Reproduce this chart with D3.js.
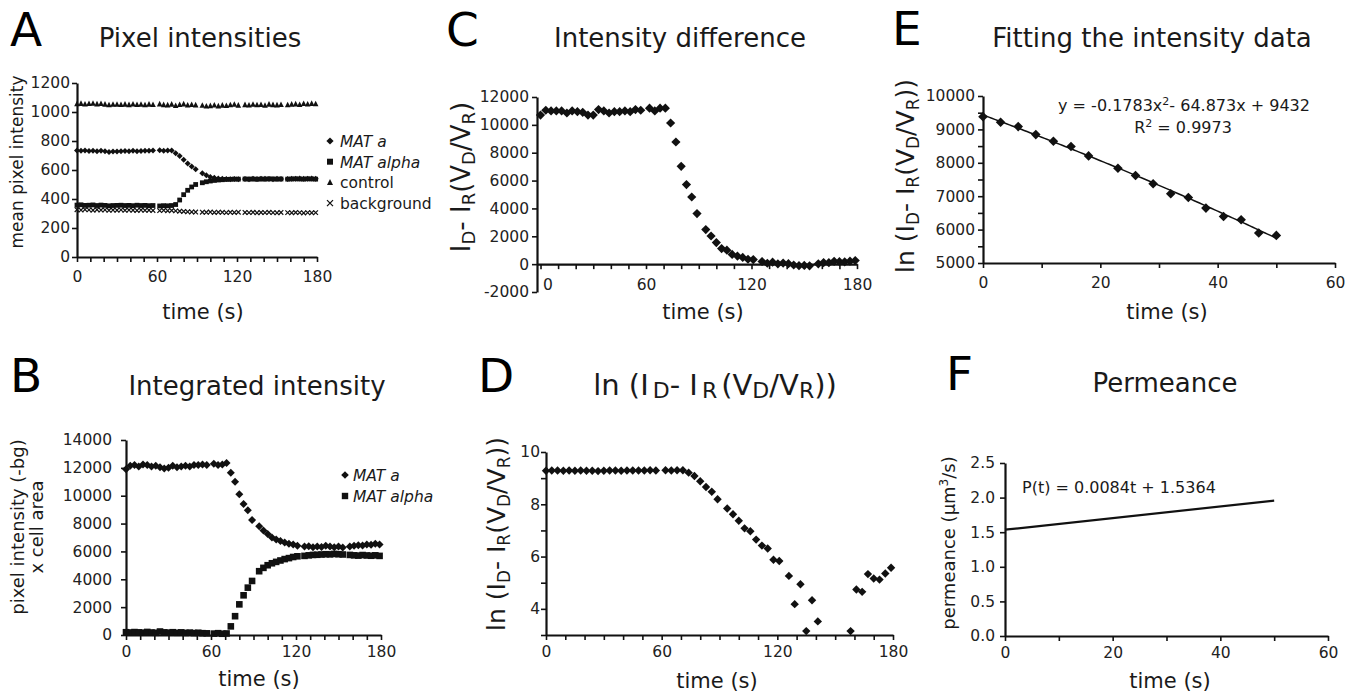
<!DOCTYPE html>
<html>
<head>
<meta charset="utf-8">
<script src="https://cdn.jsdelivr.net/npm/d3@7"></script>
<style>
  body { margin: 0; background: #fff; }
  text { font-family: "DejaVu Sans", Verdana, sans-serif; fill: #1a1a1a; }
  .axis path.domain { stroke: #111; stroke-width: 2.2; }
  .axis line { stroke: #111; stroke-width: 1.6; }
  .axis text { font-size: 15.5px; fill: #222; font-family: "DejaVu Sans", Verdana, sans-serif; }
</style>
</head>
<body>
<svg id="fig" width="1351" height="696"></svg>
<script>
// sample times (s) shared by panels A-D, acquisition in blocks of 10 frames
const timeS = [0, 3, 6, 9, 12, 15, 18, 21, 24, 27,
  30, 33, 36, 39, 42, 45, 48, 51, 54, 57,
  62, 65, 68, 71, 74, 77, 80, 83, 86, 89,
  94, 97, 100, 103, 106, 109, 112, 115, 118, 121,
  126, 129, 132, 135, 138, 141, 144, 147, 150, 153,
  158, 161, 164, 167, 170, 173, 176, 179];

// A - mean pixel intensity
const pixControl = [1056, 1058, 1054, 1057, 1059, 1055, 1057, 1053, 1049, 1052,
  1052, 1051, 1053, 1050, 1054, 1051, 1052, 1049, 1053, 1051,
  1055, 1050, 1048, 1053, 1044, 1051, 1055, 1047, 1051, 1048,
  1045, 1040, 1043, 1047, 1041, 1046, 1044, 1049, 1052, 1046,
  1050, 1047, 1052, 1049, 1051, 1045, 1053, 1050, 1048, 1051,
  1049, 1053, 1055, 1051, 1057, 1054, 1058, 1056];
const pixMatA = [735, 733, 734, 731, 732, 729, 733, 730, 724, 728,
  727, 730, 731, 729, 732, 730, 731, 733, 732, 734,
  736, 733, 735, 734, 715, 697, 670, 645, 625, 605,
  578, 563, 552, 546, 541, 539, 538, 537, 538, 536,
  538, 537, 539, 538, 540, 539, 538, 537, 539, 538,
  538, 540, 539, 541, 539, 540, 541, 539];
const pixMatAlpha = [358, 360, 356, 357, 359, 355, 358, 356, 353, 355,
  356, 357, 355, 356, 354, 357, 355, 356, 354, 355,
  352, 354, 353, 355, 362, 393, 430, 460, 483, 500,
  512, 519, 524, 528, 531, 533, 535, 536, 537, 537,
  538, 537, 538, 536, 538, 537, 539, 538, 537, 538,
  537, 538, 539, 538, 537, 539, 538, 537];
const pixBackground = [326, 324, 327, 325, 323, 326, 324, 325, 322, 324,
  323, 325, 322, 324, 323, 321, 324, 322, 323, 321,
  320, 322, 319, 321, 318, 316, 314, 312, 311, 310,
  309, 308, 310, 307, 309, 308, 306, 308, 307, 309,
  307, 306, 308, 305, 307, 306, 308, 306, 305, 307,
  306, 305, 307, 306, 304, 306, 305, 306];

// B - integrated intensity
const intMatA = [11900, 12150, 12200, 12100, 12250, 12200, 12100, 12150, 12050, 11950,
  12000, 12150, 12050, 12100, 12150, 12100, 12200, 12200, 12250, 12200,
  12300, 12200, 12250, 12350, 11650, 11000, 10100, 9400, 8950, 8250,
  7800, 7500, 7250, 7000, 6850, 6750, 6650, 6550, 6500, 6400,
  6350, 6380, 6300, 6350, 6320, 6400, 6350, 6300, 6350, 6280,
  6350, 6400, 6450, 6420, 6500, 6480, 6550, 6500];
const intMatAlpha = [200, 180, 210, 190, 170, 220, 180, 160, 250, 190,
  170, 200, 160, 190, 150, 170, 140, 160, 130, 120,
  100, 130, 90, 110, 620, 1350, 2200, 2850, 3400, 3880,
  4580, 4820, 5010, 5150, 5250, 5350, 5450, 5520, 5600, 5650,
  5680, 5720, 5750, 5760, 5780, 5800, 5790, 5820, 5800, 5780,
  5750, 5720, 5700, 5740, 5710, 5690, 5720, 5680];

// C - intensity difference
const diffVals = [10700, 11050, 11000, 11000, 11000, 10850, 11000, 10950, 10900, 10700,
  10700, 11100, 11000, 10850, 10950, 10950, 11000, 10950, 11100, 11050,
  11200, 11000, 11200, 11200, 10134, 8770, 7025, 5710, 4820, 3630,
  2480, 2020, 1550, 1120, 1000, 700, 580, 480, 350, 330,
  190, 65, 140, 25, 75, 35, -60, -110, -90, -120,
  25, 115, 105, 205, 175, 165, 210, 260];

// D - log of the difference (null = not defined)
const lnVals = [9.28, 9.29, 9.29, 9.28, 9.29, 9.28, 9.29, 9.28, 9.28, 9.27,
  9.28, 9.29, 9.29, 9.28, 9.29, 9.29, 9.29, 9.29, 9.30, 9.29,
  9.30, 9.29, 9.30, 9.30, 9.21, 9.08, 8.88, 8.66, 8.48, 8.19,
  7.84, 7.62, 7.37, 7.08, 6.97, 6.65, 6.42, 6.31, 5.88, 5.83,
  5.26, 4.18, 4.94, 3.15, 4.33, 3.52, null, null, null, null,
  3.15, 4.74, 4.65, 5.33, 5.16, 5.12, 5.35, 5.57];

// E - fitted section
const fitTime = [0, 3, 6, 9, 12, 15, 18, 23, 26, 29, 32, 35, 38, 41, 44, 47, 50];
const fitVals = [9382, 9213, 9084, 8845, 8645, 8486, 8207, 7839, 7620, 7371, 7072, 6962, 6643, 6394, 6295, 5896, 5827];
const fitCoef = [-0.1783, -64.873, 9432]; // trendline y = a x^2 + b x + c

// F - permeance line
const permTime = [0, 50];
const permVals = [1.536, 1.956];

// ticks
const ticks180 = [0, 10, 20, 30, 40, 50, 60, 70, 80, 90, 100, 110, 120, 130, 140, 150, 160, 170, 180];
const labels180 = [0, 60, 120, 180];
const ticks60 = [0, 10, 20, 30, 40, 50, 60];
const labels60 = [0, 20, 40, 60];
const pixTicks = [0, 200, 400, 600, 800, 1000, 1200];
const intTicks = [0, 2000, 4000, 6000, 8000, 10000, 12000, 14000];
const diffTicks = [-2000, 0, 2000, 4000, 6000, 8000, 10000, 12000];
const lnTicks = [3, 4, 5, 6, 7, 8, 9, 10];
const lnLabels = [4, 6, 8, 10];
const fitTicks = [5000, 5500, 6000, 6500, 7000, 7500, 8000, 8500, 9000, 9500, 10000];
const fitLabels = [5000, 6000, 7000, 8000, 9000, 10000];
const permTicks = [0, 0.5, 1, 1.5, 2, 2.5];

const svg = d3.select("#fig");

const diamond = r => `M0,${-r}L${r},0L0,${r}L${-r},0Z`;
const square = r => `M${-r},${-r}H${r}V${r}H${-r}Z`;
const triangle = r => `M0,${-r * 1.15}L${r},${r * 0.85}L${-r},${r * 0.85}Z`;
const times = r => `M${-r},${-r}L${r},${r}M${r},${-r}L${-r},${r}`;

function makePanel(o) {
    const x = d3.scaleLinear().domain(o.xDomain).range(o.xRange);
    const y = d3.scaleLinear().domain(o.yDomain).range(o.yRange);
    const g = svg.append("g");
    const fmtY = o.yFmt ? d3.format(o.yFmt) : (d => d);

    const xAxisG = g.append("g")
        .attr("class", "axis")
        .attr("transform", `translate(0,${y(o.xCross)})`)
        .call(d3.axisBottom(x).tickValues(o.xTicks).tickSize(5).tickSizeOuter(0)
            .tickPadding(o.xPad)
            .tickFormat(d => o.xLabels.includes(d) ? d : ""));

    g.append("g")
        .attr("class", "axis")
        .attr("transform", `translate(${x(o.yCross)},0)`)
        .call(d3.axisLeft(y).tickValues(o.yTicks).tickSize(5).tickSizeOuter(0)
            .tickPadding(o.yPad)
            .tickFormat(d => o.yLabels.includes(d) ? fmtY(d) : ""));

    return { g, x, y, xAxisG };
}

function points(p, xs, ys, shape, r) {
    const pts = xs.map((t, i) => ({ t, v: ys[i] })).filter(d => d.v !== null);
    p.g.selectAll(null)
        .data(pts)
        .enter()
        .append("path")
        .attr("transform", d => `translate(${p.x(d.t)},${p.y(d.v)})`)
        .attr("d", shape(r))
        .attr("fill", shape === times ? "none" : "#111")
        .attr("stroke", shape === times ? "#111" : "none")
        .attr("stroke-width", 1.2);
}

// text with sub/superscript pieces
function rich(x, y, parts, o) {
    const t = svg.append("text")
        .attr("transform", `translate(${x},${y})` + (o.rotate ? " rotate(-90)" : ""))
        .attr("text-anchor", o.anchor || "middle")
        .style("font-size", o.size + "px");
    let shift = 0;
    parts.forEach(p => {
        const [s, kind, dx] = typeof p === "string" ? [p, null, 0] : p;
        const want = kind === "sub" ? o.subDy : kind === "sup" ? -o.supDy : 0;
        t.append("tspan")
            .attr("dy", want - shift)
            .attr("dx", dx || 0)
            .style("font-size", (kind ? o.small : o.size) + "px")
            .text(s);
        shift = want;
    });
    return t;
}

function label(x, y, s, size, anchor, extra) {
    const t = svg.append("text")
        .attr("x", x).attr("y", y)
        .attr("text-anchor", anchor || "middle")
        .style("font-size", size + "px")
        .text(s);
    if (extra) extra(t);
    return t;
}

// panel letters and titles
[["A", 10, 46], ["C", 446, 46], ["E", 892, 45], ["B", 10, 392], ["D", 478, 392], ["F", 946, 390]]
    .forEach(([s, x, y]) => label(x, y, s, 47, "start", t => t.style("fill", "#000")));

label(200, 47, "Pixel intensities", 26);
label(680, 47, "Intensity difference", 26);
label(1152, 47, "Fitting the intensity data", 26);
label(257, 395, "Integrated intensity", 26);
label(1165, 392, "Permeance", 26);
rich(715, 395, ["ln (I", ["D", "sub", 4], "- I", ["R", "sub", 4], ["(V", null, 4], ["D", "sub"], "/V", ["R", "sub"], "))"],
    { size: 29, small: 22, subDy: 3 });

// ---------- A ----------
const pA = makePanel({
    xDomain: [0, 180], xRange: [77, 317], yDomain: [0, 1200], yRange: [257, 83],
    xCross: 0, yCross: 0, xTicks: ticks180, xLabels: labels180, xPad: 9,
    yTicks: pixTicks, yLabels: pixTicks, yPad: 2
});
points(pA, timeS, pixControl, triangle, 2.8);
points(pA, timeS, pixBackground, times, 2.3);
points(pA, timeS, pixMatAlpha, square, 2.4);
points(pA, timeS, pixMatA, diamond, 3);
label(203, 319, "time (s)", 21);
label(0, 0, "mean pixel intensity", 17, "middle", t => t.attr("transform", "translate(23,162) rotate(-90)"));

const legA = [["MAT a", diamond, true], ["MAT alpha", square, true], ["control", triangle, false], ["background", times, false]];
legA.forEach(([s, shape, it], i) => {
    const cy = 141 + i * 20.7;
    svg.append("path").attr("transform", `translate(330,${cy})`).attr("d", shape(shape === diamond ? 3.6 : 3))
        .attr("fill", shape === times ? "none" : "#111").attr("stroke", shape === times ? "#111" : "none").attr("stroke-width", 1.3);
    label(340, cy + 6, s, 15.5, "start", t => t.style("font-style", it ? "italic" : "normal"));
});

// ---------- B ----------
const pB = makePanel({
    xDomain: [0, 180], xRange: [126, 381], yDomain: [0, 14000], yRange: [635, 440],
    xCross: 0, yCross: 0, xTicks: ticks180, xLabels: labels180, xPad: 6,
    yTicks: intTicks, yLabels: intTicks, yPad: 9
});
points(pB, timeS, intMatAlpha, square, 3.3);
points(pB, timeS, intMatA, diamond, 4);
label(259, 686, "time (s)", 21);
label(0, 0, "pixel intensity (-bg)", 18, "middle", t => t.attr("transform", "translate(24,527) rotate(-90)"));
label(0, 0, "x cell area", 18, "middle", t => t.attr("transform", "translate(43,527) rotate(-90)"));
[["MAT a", diamond], ["MAT alpha", square]].forEach(([s, shape], i) => {
    const cy = 475 + i * 21;
    svg.append("path").attr("transform", `translate(345,${cy})`).attr("d", shape(shape === diamond ? 3.8 : 3.2)).attr("fill", "#111");
    label(353, cy + 6, s, 15.5, "start", t => t.style("font-style", "italic"));
});

// ---------- C ----------
const pC = makePanel({
    xDomain: [-2, 180], xRange: [537, 857], yDomain: [-2000, 12000], yRange: [292, 97],
    xCross: 0, yCross: -2, xTicks: ticks180, xLabels: labels180, xPad: 10,
    yTicks: diffTicks, yLabels: diffTicks, yPad: 3
});
// the "0" time label sits just right of the y axis
pC.xAxisG.selectAll(".tick text").filter(d => d === 0).attr("dx", 7);
points(pC, timeS, diffVals, diamond, 4.6);
label(703, 319, "time (s)", 21);
rich(470, 177, ["I", ["D", "sub"], "- I", ["R", "sub"], "(V", ["D", "sub"], "/V", ["R", "sub"], ")"],
    { size: 26, small: 18, subDy: 5, rotate: true });

// ---------- D ----------
const pD = makePanel({
    xDomain: [0, 180], xRange: [546, 893], yDomain: [3, 10], yRange: [635, 452],
    xCross: 3, yCross: 0, xTicks: ticks180, xLabels: labels180, xPad: 6,
    yTicks: lnTicks, yLabels: lnLabels, yPad: 1
});
points(pD, timeS, lnVals, diamond, 4.2);
label(717, 688, "time (s)", 21);
rich(505, 534, ["ln (I", ["D", "sub"], "- I", ["R", "sub"], "(V", ["D", "sub"], "/V", ["R", "sub"], "))"],
    { size: 25, small: 17, subDy: 5, rotate: true });

// ---------- E ----------
const pE = makePanel({
    xDomain: [0, 60], xRange: [983, 1335], yDomain: [5000, 10000], yRange: [263, 96],
    xCross: 5000, yCross: 0, xTicks: ticks60, xLabels: labels60, xPad: 9,
    yTicks: fitTicks, yLabels: fitLabels, yPad: 3
});
const fitLine = d3.line().x(d => pE.x(d)).y(d => pE.y(fitCoef[0] * d * d + fitCoef[1] * d + fitCoef[2]));
pE.g.append("path").datum(d3.range(0, 50.5, 0.5)).attr("d", fitLine)
    .attr("fill", "none").attr("stroke", "#111").attr("stroke-width", 1.5);
points(pE, fitTime, fitVals, diamond, 4.8);
label(1167, 319, "time (s)", 21);
rich(914, 176, ["ln (I", ["D", "sub"], "- I", ["R", "sub"], "(V", ["D", "sub"], "/V", ["R", "sub"], "))"],
    { size: 25, small: 17, subDy: 5, rotate: true });
rich(1184, 111, ["y = -0.1783x", ["2", "sup"], "- 64.873x + 9432"], { size: 16, small: 11, supDy: 6 });
rich(1183, 133, ["R", ["2", "sup"], " = 0.9973"], { size: 16, small: 11, supDy: 6 });

// ---------- F ----------
const pF = makePanel({
    xDomain: [0, 60], xRange: [1005, 1328], yDomain: [0, 2.5], yRange: [636, 463],
    xCross: 0, yCross: 0, xTicks: ticks60, xLabels: labels60, xPad: 6,
    yTicks: permTicks, yLabels: permTicks, yPad: 5, yFmt: ".1f"
});
pF.g.append("path").datum(permTime.map((t, i) => [t, permVals[i]]))
    .attr("d", d3.line().x(d => pF.x(d[0])).y(d => pF.y(d[1])))
    .attr("fill", "none").attr("stroke", "#111").attr("stroke-width", 2.2);
label(1170, 688, "time (s)", 21);
rich(955, 543, ["permeance (µm", ["3", "sup"], "/s)"], { size: 18, small: 12, supDy: 7, rotate: true });
rich(1022, 493, ["P(t) = 0.0084t + 1.5364"], { size: 16, anchor: "start" });
</script>
</body>
</html>
